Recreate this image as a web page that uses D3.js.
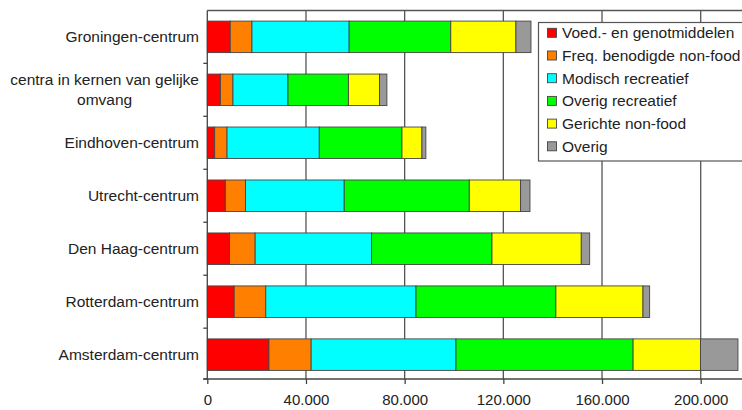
<!DOCTYPE html>
<html>
<head>
<meta charset="utf-8">
<script src="https://cdn.jsdelivr.net/npm/d3@7"></script>
<style>
  html, body { margin: 0; padding: 0; background: #fff; }
  svg { display: block; font-family: "Liberation Sans", Arial, sans-serif; }
</style>
</head>
<body>
<svg id="chart" width="742" height="410"></svg>
<script>
const categories = [
  "Groningen-centrum",
  "centra in kernen van gelijke omvang",
  "Eindhoven-centrum",
  "Utrecht-centrum",
  "Den Haag-centrum",
  "Rotterdam-centrum",
  "Amsterdam-centrum"
];
const seriesNames = [
  "Voed.- en genotmiddelen",
  "Freq. benodigde non-food",
  "Modisch recreatief",
  "Overig recreatief",
  "Gerichte non-food",
  "Overig"
];
const seriesColors = ["#ff0000", "#ff8000", "#00ffff", "#00ff00", "#ffff00", "#999999"];
const voed      = [9300, 5300, 3000, 7300, 9000, 10900, 25000];
const freq      = [8800, 5100, 5000, 8200, 10400, 12800, 17100];
const modisch   = [39400, 22300, 37400, 40000, 47200, 60900, 58700];
const overigRec = [41200, 24500, 33500, 50700, 48800, 56700, 71800];
const gericht   = [26400, 12600, 8100, 20800, 36200, 35300, 27300];
const overig    = [6100, 3000, 1600, 3800, 3400, 2700, 15200];
const xTicks    = [0, 40000, 80000, 120000, 160000, 200000];

(function () {
const seriesValues = [voed, freq, modisch, overigRec, gericht, overig];
const rows = categories.map((c, i) => {
  const r = { cat: c };
  seriesNames.forEach((s, j) => r[s] = seriesValues[j][i]);
  return r;
});

const svg = d3.select("#chart");
const pLeft = 207.3, pTop = 10.5, pBottom = 379;
const x = d3.scaleLinear().domain([0, 240000]).range([pLeft, pLeft + 240000 * (493.4 / 200000)]);
const y = d3.scaleBand().domain(categories).range([10.5, 381]).paddingInner(0.405).paddingOuter(0.2);

const nl = d3.formatLocale({ decimal: ",", thousands: ".", grouping: [3], currency: ["€", ""] });
const fmt = nl.format(",");

// gridlines
svg.append("g").selectAll("line").data(xTicks.filter(d => d > 0)).join("line")
  .attr("x1", d => x(d)).attr("x2", d => x(d))
  .attr("y1", pTop).attr("y2", pBottom)
  .attr("stroke", "#555").attr("stroke-width", 1.3);

// top border
svg.append("line").attr("x1", pLeft).attr("x2", 742).attr("y1", pTop).attr("y2", pTop)
  .attr("stroke", "#555").attr("stroke-width", 1.3);

// bars
const stack = d3.stack().keys(seriesNames)(rows);
svg.append("g").selectAll("g").data(stack).join("g")
  .attr("fill", (d, i) => seriesColors[i])
  .selectAll("rect").data(d => d).join("rect")
  .attr("x", d => x(d[0]))
  .attr("width", d => x(d[1]) - x(d[0]))
  .attr("y", d => y(d.data.cat))
  .attr("height", y.bandwidth())
  .attr("stroke", "#444").attr("stroke-width", 0.9);

// x axis
const xAxis = svg.append("g").attr("transform", `translate(0,${pBottom})`)
  .call(d3.axisBottom(x).tickValues(xTicks).tickFormat(fmt).tickSize(5).tickPadding(10));
xAxis.select(".domain").attr("d", `M${pLeft - 4},0H742`).attr("stroke", "#444").attr("stroke-width", 1.3);
xAxis.selectAll(".tick line").attr("stroke", "#444").attr("stroke-width", 1.3);
xAxis.selectAll("text").attr("font-size", "15px").attr("fill", "#222")
  .attr("font-family", "Liberation Sans, Arial, sans-serif");

// y axis
const yAxis = svg.append("g").attr("transform", `translate(${pLeft},0)`);
yAxis.append("line").attr("y1", pTop).attr("y2", pBottom).attr("stroke", "#444").attr("stroke-width", 1.3);
const bounds = categories.map(c => y(c) - y.step() * y.paddingInner() / 2).concat([pBottom]);
yAxis.selectAll("line.tk").data(bounds.slice(1)).join("line").attr("class", "tk")
  .attr("x1", -4).attr("x2", 0).attr("y1", d => d).attr("y2", d => d)
  .attr("stroke", "#444").attr("stroke-width", 1.3);

// category labels (wrap long ones)
const labelX = 199;
const lg = svg.append("g").attr("font-size", "15.5px").attr("fill", "#222");
categories.forEach(c => {
  const cy = y(c) + y.bandwidth() / 2;
  const t = lg.append("text").attr("text-anchor", "end").attr("x", labelX).attr("y", cy).attr("dy", "0.35em").text(c);
  if (t.node().getComputedTextLength() > 170) {
    const words = c.split(" ");
    const first = words.slice(0, -1).join(" ");
    const last = words[words.length - 1];
    t.remove();
    const t1 = lg.append("text").attr("text-anchor", "end").attr("x", labelX).attr("y", cy - 10).attr("dy", "0.35em").text(first);
    const w = t1.node().getComputedTextLength();
    lg.append("text").attr("text-anchor", "middle").attr("x", labelX - w / 2).attr("y", cy + 10).attr("dy", "0.35em").text(last);
  }
});

// legend
const leg = svg.append("g");
leg.append("rect").attr("x", 538.5).attr("y", 22.5).attr("width", 230).attr("height", 138.5)
  .attr("fill", "#fff").attr("stroke", "#555").attr("stroke-width", 1.2);
seriesNames.forEach((s, i) => {
  const cy = 32.8 + i * 22.7;
  leg.append("rect").attr("x", 547.5).attr("y", cy - 4.5).attr("width", 9).attr("height", 9)
    .attr("fill", seriesColors[i]).attr("stroke", "#444").attr("stroke-width", 0.9);
  leg.append("text").attr("x", 562).attr("y", cy).attr("dy", "0.35em")
    .attr("font-size", "15.5px").attr("fill", "#222").text(s);
});
})();
</script>
</body>
</html>
